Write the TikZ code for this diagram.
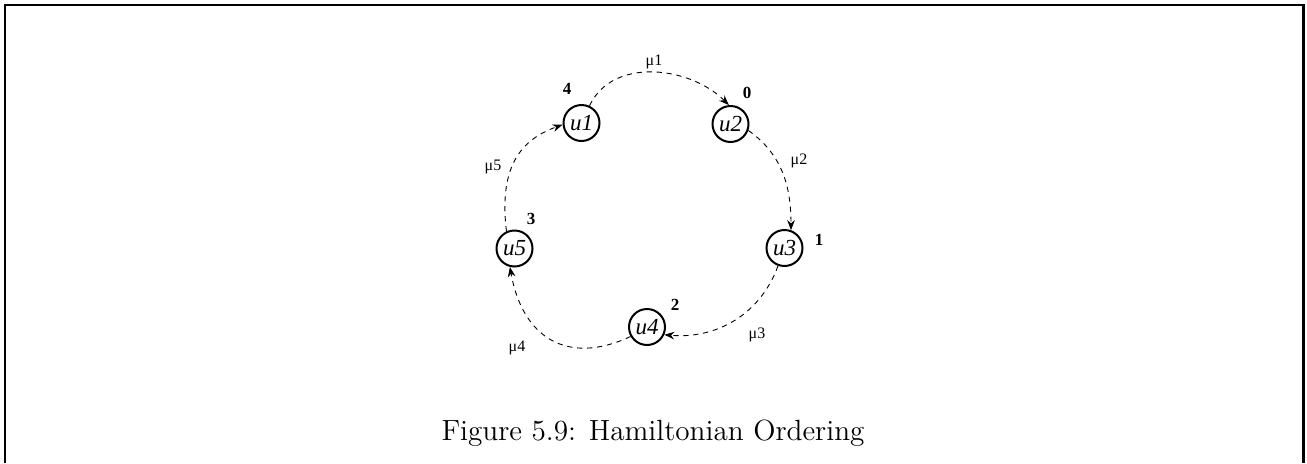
\documentclass[tikz,border=0pt]{standalone}
\usepackage{fontspec}
\newfontfamily\figfont{Liberation Serif}
\usetikzlibrary{arrows.meta}

\begin{document}
\begin{tikzpicture}[
  x=0.5pt, y=0.5pt,
  vtx/.style={circle, draw=black, line width=1pt, minimum size=18pt, inner sep=0pt,
              font=\figfont\fontsize{11.5}{12}\selectfont\itshape},
  num/.style={font=\figfont\fontsize{8.5}{9}\selectfont\bfseries},
  wt/.style={font=\figfont\fontsize{8}{9}\selectfont},
  ar/.style={-{Stealth[length=5pt, width=3.8pt]}, line width=.45pt,
             dash pattern=on 2.6pt off 2.4pt},
]
\useasboundingbox (0,0) rectangle (1307,463);
\draw[line width=1.15pt] (5,0) -- (5,458) -- (1303.5,458) -- (1303.5,0);

\node[vtx] (u1) at (581.5,340) {u1};
\node[vtx] (u2) at (730.5,339) {u2};
\node[vtx] (u3) at (784.5,215) {u3};
\node[vtx] (u4) at (647,136)    {u4};
\node[vtx] (u5) at (514.5,214.5) {u5};

\node[num] (o1) at (567,374) {4};
\node[num] (o2) at (747,370) {0};
\node[num] (o3) at (819,223) {1};
\node[num] (o4) at (675,158) {2};
\node[num] (o5) at (531,244) {3};

\node[wt] (w1) at (654,401) {μ1};
\node[wt] (w2) at (799,302) {μ2};
\node[wt] (w3) at (757,128) {μ3};
\node[wt] (w4) at (517,115) {μ4};
\node[wt] (w5) at (493,296) {μ5};

\draw[ar] (u1.65)   to[out=65, in=135] (u2.95);
\draw[ar] (u2.-20)  to[out=-35, in=90] (u3.70);
\draw[ar] (u3.-110) to[out=-110, in=-5] (u4.-24);
\draw[ar] (u4.210)  to[out=205, in=-80, looseness=1.3] (u5.-104);
\draw[ar] (u5.115)  to[out=97, in=200, out distance=35pt, in distance=20pt] (u1.185);

\node[font=\fontsize{14.6}{17}\selectfont, anchor=base] (cap) at (653,23) {Figure 5.9: Hamiltonian Ordering};
\end{tikzpicture}
\end{document}
